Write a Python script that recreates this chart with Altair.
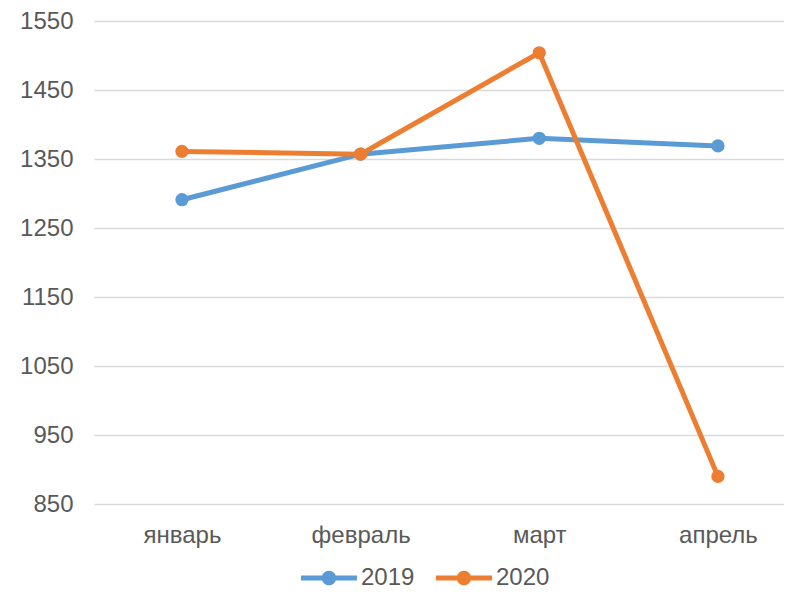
import altair as alt
import pandas as pd

months = ["январь", "февраль", "март", "апрель"]
series_2019 = [1291, 1357, 1380, 1369]
series_2020 = [1361, 1357, 1504, 890]
years = ["2019", "2020"]
colors = ["#5B9BD5", "#ED7D31"]
y_ticks = [850, 950, 1050, 1150, 1250, 1350, 1450, 1550]

rows = []
for m, v in zip(months, series_2019):
    rows.append({"month": m, "value": v, "year": "2019"})
for m, v in zip(months, series_2020):
    rows.append({"month": m, "value": v, "year": "2020"})
df = pd.DataFrame(rows)

legend_path = ("M-1,-0.09 L1,-0.09 L1,0.09 L-1,0.09 Z "
               "M-0.26,0 A0.26,0.26 0 1,1 0.26,0 A0.26,0.26 0 1,1 -0.26,0 Z")

FONT = "Liberation Sans"
TXT = "#595959"

# plot width 690: category centres at 88, 268, 446, 624 px from the plot's left edge
chart = alt.Chart(df).mark_line(
    strokeWidth=5,
    point=alt.OverlayMarkDef(size=175, filled=True, opacity=1),
).encode(
    x=alt.X("month:N", sort=months, title=None,
            scale=alt.Scale(type="point", padding=0.431, align=0.571),
            axis=alt.Axis(domain=False, ticks=False, grid=False, labelAngle=0,
                          labelFontSize=24, labelColor=TXT, labelFont=FONT,
                          labelPadding=19)),
    y=alt.Y("value:Q", title=None,
            scale=alt.Scale(domain=[850, 1550], nice=False, zero=False),
            axis=alt.Axis(values=y_ticks, format="d", domain=False, ticks=False, tickSize=0,
                          grid=True, gridColor="#D9D9D9", gridWidth=1.6,
                          labelFontSize=24, labelColor=TXT, labelFont=FONT,
                          labelPadding=21)),
    color=alt.Color("year:N", scale=alt.Scale(domain=years, range=colors),
                    legend=alt.Legend(title=None, orient="none", direction="horizontal",
                                      legendX=207, legendY=529,
                                      symbolType=legend_path, symbolSize=3136,
                                      symbolStrokeWidth=0, symbolOpacity=1,
                                      labelFontSize=24, labelColor=TXT, labelFont=FONT,
                                      labelOffset=4, columnPadding=21, padding=0)),
    order=alt.Order("year:N"),
).properties(
    width=690,
    height=483,
    autosize=alt.AutoSizeParams(type="none"),
    padding={"left": 86, "top": 13, "right": 0, "bottom": 85},
).configure(font=FONT).configure_view(stroke=None)

chart.save("out.html", embed_options={"renderer": "svg", "actions": False})
